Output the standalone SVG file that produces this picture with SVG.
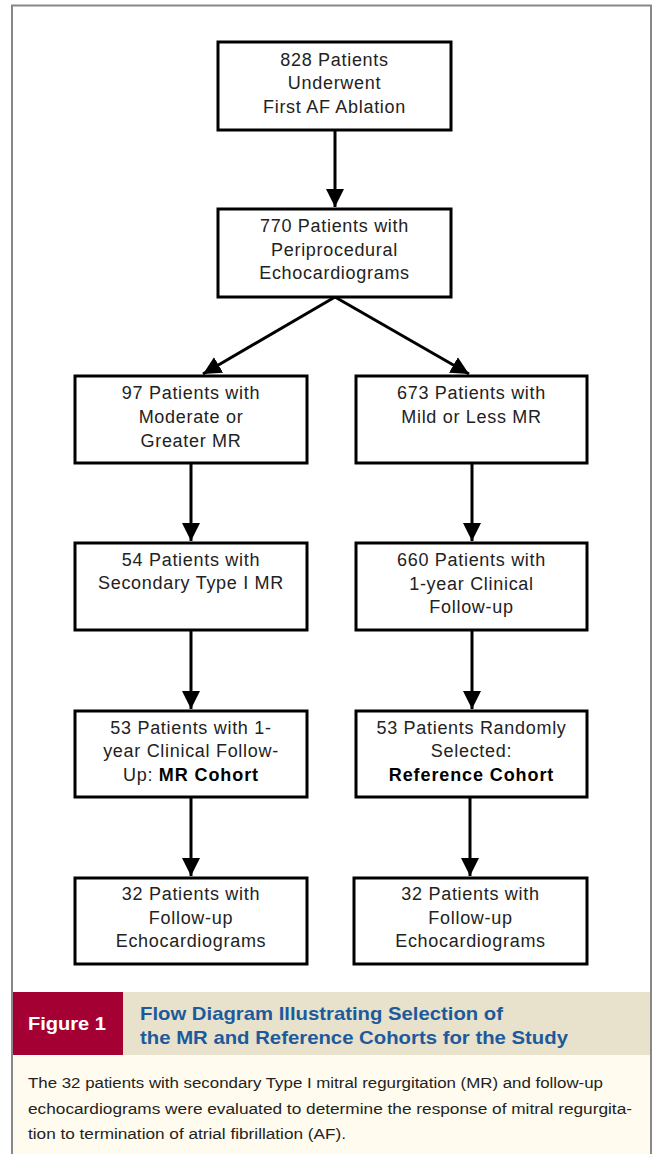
<svg xmlns="http://www.w3.org/2000/svg" width="655" height="1154" viewBox="0 0 655 1154">
<style>
.box{fill:#fff;stroke:#000;stroke-width:3}
.t{font-family:"Liberation Sans",Arial,sans-serif;font-size:18px;letter-spacing:0.7px;fill:#222;text-anchor:middle}
.b{font-weight:bold;fill:#000;letter-spacing:0.9px}
.c{stroke:#000;stroke-width:3;fill:none}
.cap{font-family:"Liberation Sans Narrow","Liberation Sans",Arial,sans-serif;font-size:15.5px;fill:#222}
.ttl{font-family:"Liberation Sans Narrow","Liberation Sans",Arial,sans-serif;font-size:19px;font-weight:bold;fill:#1c5a9c}
</style>
<defs>
<marker id="ah" viewBox="0 0 10 10" refX="10" refY="5" markerWidth="6" markerHeight="6.6" markerUnits="strokeWidth" orient="auto">
<path d="M0,0 L10,5 L0,10 z" fill="#000"/>
</marker>
</defs>
<rect x="0" y="0" width="655" height="1154" fill="#fff"/>
<rect x="12" y="992" width="639" height="162" fill="#fffbee"/>
<rect x="123" y="992" width="528" height="63" fill="#e8e1cc"/>
<rect x="12" y="992" width="111" height="63" fill="#a50034"/>
<path d="M12,1154 V5.5 H651 V1154" fill="none" stroke="#888" stroke-width="2"/>

<g id="connectors">
<line class="c" x1="335" y1="130" x2="335" y2="207" marker-end="url(#ah)"/>
<line class="c" x1="335" y1="297" x2="203" y2="374" marker-end="url(#ah)"/>
<line class="c" x1="335" y1="297" x2="469" y2="374" marker-end="url(#ah)"/>
<line class="c" x1="191" y1="463" x2="191" y2="541" marker-end="url(#ah)"/>
<line class="c" x1="472" y1="463" x2="472" y2="541" marker-end="url(#ah)"/>
<line class="c" x1="191" y1="630" x2="191" y2="709" marker-end="url(#ah)"/>
<line class="c" x1="472" y1="630" x2="472" y2="709" marker-end="url(#ah)"/>
<line class="c" x1="191" y1="797" x2="191" y2="876" marker-end="url(#ah)"/>
<line class="c" x1="470" y1="797" x2="470" y2="876" marker-end="url(#ah)"/>
</g>

<g id="n1"><rect class="box" x="218" y="42" width="233" height="88"/>
<text class="t" x="334.5" y="66">828 Patients</text><text class="t" x="334.5" y="89">Underwent</text><text class="t" x="334.5" y="113">First AF Ablation</text></g>
<g id="n2"><rect class="box" x="218" y="209" width="233" height="88"/>
<text class="t" x="334.5" y="232">770 Patients with</text><text class="t" x="334.5" y="256">Periprocedural</text><text class="t" x="334.5" y="279">Echocardiograms</text></g>
<g id="n3"><rect class="box" x="75" y="376" width="232" height="87"/>
<text class="t" x="191" y="399">97 Patients with</text><text class="t" x="191" y="423">Moderate or</text><text class="t" x="191" y="447">Greater MR</text></g>
<g id="n4"><rect class="box" x="356" y="376" width="231" height="87"/>
<text class="t" x="471.5" y="399">673 Patients with</text><text class="t" x="471.5" y="423">Mild or Less MR</text></g>
<g id="n5"><rect class="box" x="75" y="543" width="232" height="87"/>
<text class="t" x="191" y="566">54 Patients with</text><text class="t" x="191" y="589">Secondary Type I MR</text></g>
<g id="n6"><rect class="box" x="356" y="543" width="231" height="87"/>
<text class="t" x="471.5" y="566">660 Patients with</text><text class="t" x="471.5" y="590">1-year Clinical</text><text class="t" x="471.5" y="613">Follow-up</text></g>
<g id="n7"><rect class="box" x="75" y="711" width="232" height="86"/>
<text class="t" x="191" y="734">53 Patients with 1-</text><text class="t" x="191" y="757">year Clinical Follow-</text><text class="t" x="191" y="781">Up: <tspan class="b">MR Cohort</tspan></text></g>
<g id="n8"><rect class="box" x="356" y="711" width="231" height="86"/>
<text class="t" x="471.5" y="734">53 Patients Randomly</text><text class="t" x="471.5" y="757">Selected:</text><text class="t b" x="471.5" y="781">Reference Cohort</text></g>
<g id="n9"><rect class="box" x="75" y="878" width="232" height="86"/>
<text class="t" x="191" y="900">32 Patients with</text><text class="t" x="191" y="924">Follow-up</text><text class="t" x="191" y="947">Echocardiograms</text></g>
<g id="n10"><rect class="box" x="354" y="878" width="233" height="86"/>
<text class="t" x="470.5" y="900">32 Patients with</text><text class="t" x="470.5" y="924">Follow-up</text><text class="t" x="470.5" y="947">Echocardiograms</text></g>

<text x="67" y="1030" font-family="Liberation Sans Narrow,Liberation Sans,Arial,sans-serif" font-size="19" font-weight="bold" fill="#fff" text-anchor="middle" textLength="78" lengthAdjust="spacingAndGlyphs">Figure 1</text>
<text class="ttl" x="140" y="1020" textLength="363" lengthAdjust="spacingAndGlyphs">Flow Diagram Illustrating Selection of</text>
<text class="ttl" x="140" y="1044" textLength="428" lengthAdjust="spacingAndGlyphs">the MR and Reference Cohorts for the Study</text>
<text class="cap" x="28" y="1088" textLength="575" lengthAdjust="spacingAndGlyphs">The 32 patients with secondary Type I mitral regurgitation (MR) and follow-up</text>
<text class="cap" x="28" y="1114" textLength="604" lengthAdjust="spacingAndGlyphs">echocardiograms were evaluated to determine the response of mitral regurgita-</text>
<text class="cap" x="28" y="1139" textLength="318" lengthAdjust="spacingAndGlyphs">tion to termination of atrial fibrillation (AF).</text>
</svg>
